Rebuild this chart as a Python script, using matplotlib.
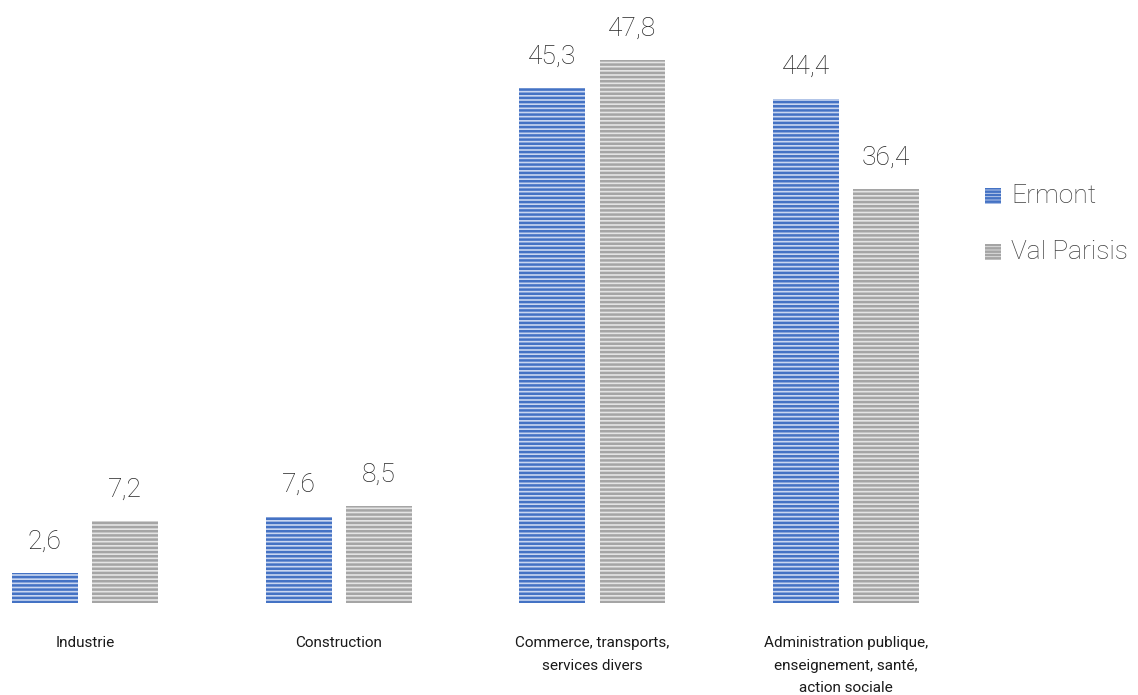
import matplotlib
matplotlib.use("Agg")
import matplotlib.pyplot as plt
from matplotlib.patches import Rectangle

plt.rcParams["font.family"] = ["Roboto", "DejaVu Sans"]
plt.rcParams["hatch.linewidth"] = 1.8

categories = ["Industrie", "Construction", "Commerce, transports,\nservices divers",
              "Administration publique,\nenseignement, santé,\naction sociale"]
series_names = ["Ermont", "Val Parisis"]
ermont = [2.6, 7.6, 45.3, 44.4]
val_parisis = [7.2, 8.5, 47.8, 36.4]

face = ["#C9D6F0", "#E4E4E4"]
stripe = ["#4472C4", "#A5A5A5"]

W, H = 1138, 695
fig = plt.figure(figsize=(W / 100, H / 100), dpi=100)
ax = fig.add_axes([0, (H - 603) / H, 973 / W, 568 / H])
ax.set_xlim(-0.335, 3.5)
ax.set_ylim(0, 50)
ax.axis("off")

bw = 0.26
off = 0.158
for i, vals in enumerate([ermont, val_parisis]):
    xs = [k + (-off if i == 0 else off) for k in range(len(categories))]
    ax.bar(xs, vals, width=bw, color=face[i], edgecolor=stripe[i],
           hatch="----", linewidth=0, label=series_names[i])
    for x, v in zip(xs, vals):
        ax.annotate(f"{v:.1f}".replace(".", ","), (x, v), xytext=(0, 14),
                    textcoords="offset points", ha="center", va="bottom",
                    fontsize=19, fontweight="light", color="#262626")

for k, c in enumerate(categories):
    ax.annotate(c, (k, 0), xytext=(0, -24), textcoords="offset points",
                ha="center", va="top", fontsize=11, color="#1a1a1a",
                linespacing=1.75, annotation_clip=False)

# legend
for j, name in enumerate(series_names):
    yc = 196 + j * 56
    fig.patches.append(Rectangle((985 / W, (H - yc - 8) / H), 16 / W, 16 / H,
                                 transform=fig.transFigure, facecolor=face[j],
                                 edgecolor=stripe[j], hatch="-----", linewidth=0))
    fig.text(1011 / W, (H - yc) / H, name, fontsize=19, fontweight="light",
             color="#404040", ha="left", va="center")

fig.savefig("out.png", dpi=100, facecolor="white")
